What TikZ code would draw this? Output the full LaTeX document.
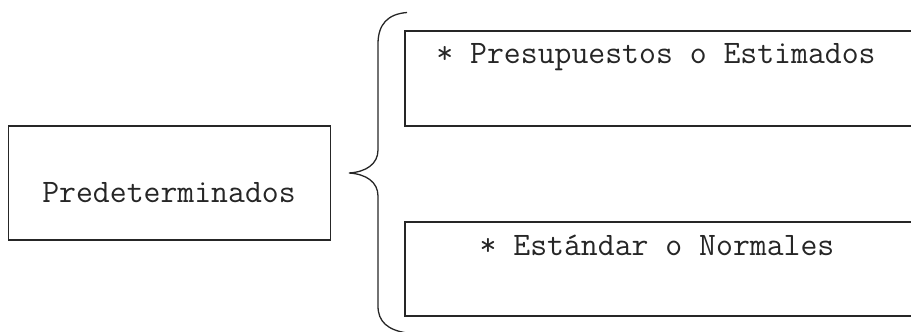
\documentclass[tikz,border=0pt]{standalone}
\usepackage{fontspec}
\begin{document}
\begin{tikzpicture}[x=1pt,y=-1pt,
  boxline/.style={draw=black!85,line width=1.5pt},
  label/.style={font=\ttfamily\fontsize{32.8}{38}\selectfont,inner sep=0pt,anchor=base,text=black!85}]
\useasboundingbox (0,0) rectangle (911,332);
\clip (0,0) rectangle (911,332);
% left box
\node[boxline,minimum width=322pt,minimum height=114pt,inner sep=0pt] (pre) at (169.5,183) {};
\node[label] (pretext) at (169,202) {Predeterminados};
% right boxes (open to the right)
\draw[boxline] (940,31) -- (405,31) -- (405,126) -- (940,126);
\node[label] (est1) at (656,63) {* Presupuestos o Estimados};
\draw[boxline] (940,222) -- (405,222) -- (405,316) -- (940,316);
\node[label] (est2) at (657,255) {* Estándar o Normales};
% brace
\coordinate (tip) at (349,173);
\draw[black!85,line width=1.3pt]
  (407,12.5) .. controls (388,14) and (378,24) .. (378,44)
  -- (378,150) .. controls (378,164) and (366,172) .. (tip)
  .. controls (366,174) and (378,182) .. (378,196)
  -- (378,306) .. controls (378,322) and (388,330) .. (407,333);
\end{tikzpicture}
\end{document}
